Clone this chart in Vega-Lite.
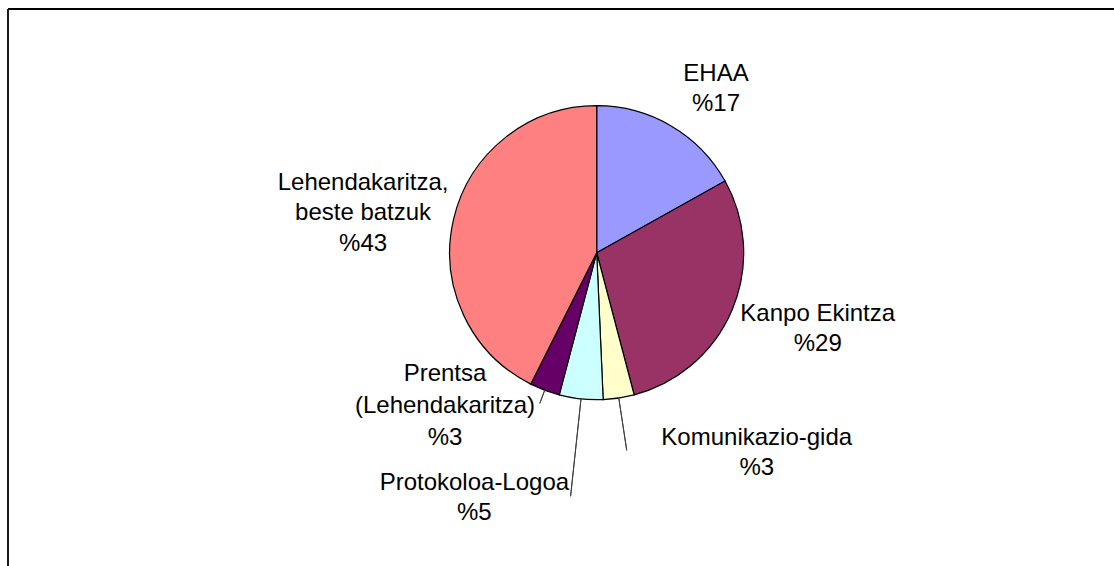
{
  "$schema": "https://vega.github.io/schema/vega-lite/v6.json",
  "width": 1106,
  "height": 557,
  "autosize": "none",
  "padding": {"left": 8, "top": 9, "right": 0, "bottom": 0},
  "background": "white",
  "config": {"view": {"stroke": null}, "text": {"font": "Liberation Sans"}},
  "layer": [
    {
      "data": {"values": [{}]},
      "mark": {"type": "rule", "color": "#000000", "strokeWidth": 2},
      "encoding": {"x": {"value": 0}, "x2": {"value": "width"}, "y": {"value": 0}}
    },
    {
      "data": {"values": [{}]},
      "mark": {"type": "rule", "color": "#1a1a1a", "strokeWidth": 2},
      "encoding": {"x": {"value": 0}, "y": {"value": 0}, "y2": {"value": "height"}}
    },
    {
      "data": {
        "values": [
          {"name": "EHAA", "value": 16.9},
          {"name": "Kanpo Ekintza", "value": 29.0},
          {"name": "Komunikazio-gida", "value": 3.4},
          {"name": "Protokoloa-Logoa", "value": 4.8},
          {"name": "Prentsa\n(Lehendakaritza)", "value": 3.3},
          {"name": "Lehendakaritza,\nbeste batzuk", "value": 42.6}
        ]
      },
      "transform": [
        {"window": [{"op": "sum", "field": "value", "as": "cumEnd"}], "frame": [null, 0]},
        {"calculate": "datum.cumEnd - datum.value", "as": "cumStart"},
        {"calculate": "datum.cumEnd - datum.value / 2", "as": "mid"},
        {"calculate": "datum.name + '\\n%' + format(datum.value, '.0f')", "as": "label"}
      ],
      "layer": [
        {
          "mark": {"type": "arc", "outerRadius": 147, "stroke": "#000000", "strokeWidth": 1.2, "x": {"expr": "width/2 + 35.7"}, "y": {"expr": "height/2 - 34.8"}},
          "encoding": {
            "theta": {"field": "cumStart", "type": "quantitative", "stack": null, "scale": {"domain": [0, 100], "range": [0, 6.283185307179586]}},
            "theta2": {"field": "cumEnd"},
            "color": {
              "field": "name",
              "type": "nominal",
              "legend": null,
              "scale": {
                "domain": ["EHAA", "Kanpo Ekintza", "Komunikazio-gida", "Protokoloa-Logoa", "Prentsa\n(Lehendakaritza)", "Lehendakaritza,\nbeste batzuk"],
                "range": ["#9999FF", "#993366", "#FFFFCC", "#CCFFFF", "#660066", "#FF8080"]
              }
            }
          }
        },
        {
          "transform": [{"filter": "indexof(datum.name, 'Prentsa') === 0"}],
          "mark": {"type": "arc", "innerRadius": 147, "outerRadius": 161, "filled": false, "stroke": "#404040", "strokeWidth": 1, "x": {"expr": "width/2 + 35.7"}, "y": {"expr": "height/2 - 34.8"}},
          "encoding": {"theta": {"field": "mid", "type": "quantitative", "stack": null}, "theta2": {"field": "mid"}}
        },
        {
          "transform": [{"filter": "datum.name === 'Protokoloa-Logoa'"}],
          "mark": {"type": "arc", "innerRadius": 147, "outerRadius": 245, "filled": false, "stroke": "#404040", "strokeWidth": 1, "x": {"expr": "width/2 + 35.7"}, "y": {"expr": "height/2 - 34.8"}},
          "encoding": {"theta": {"field": "mid", "type": "quantitative", "stack": null}, "theta2": {"field": "mid"}}
        },
        {
          "transform": [{"filter": "datum.name === 'Komunikazio-gida'"}],
          "mark": {"type": "arc", "innerRadius": 147, "outerRadius": 200, "filled": false, "stroke": "#404040", "strokeWidth": 1, "x": {"expr": "width/2 + 35.7"}, "y": {"expr": "height/2 - 34.8"}},
          "encoding": {"theta": {"field": "mid", "type": "quantitative", "stack": null}, "theta2": {"field": "mid"}}
        },
        {
          "transform": [{"filter": "datum.name === 'EHAA'"}],
          "mark": {"type": "text", "radius": 200, "dx": 18, "dy": -6, "fontSize": 24, "lineHeight": 30, "lineBreak": "\n", "align": "center", "baseline": "middle", "color": "#000000", "x": {"expr": "width/2 + 35.7"}, "y": {"expr": "height/2 - 34.8"}},
          "encoding": {"theta": {"field": "mid", "type": "quantitative", "stack": null}, "text": {"field": "label"}}
        },
        {
          "transform": [{"filter": "datum.name === 'Kanpo Ekintza'"}],
          "mark": {"type": "text", "radius": 200, "dx": 37, "dy": -17, "fontSize": 24, "lineHeight": 30, "lineBreak": "\n", "align": "center", "baseline": "middle", "color": "#000000", "x": {"expr": "width/2 + 35.7"}, "y": {"expr": "height/2 - 34.8"}},
          "encoding": {"theta": {"field": "mid", "type": "quantitative", "stack": null}, "text": {"field": "label"}}
        },
        {
          "transform": [{"filter": "datum.name === 'Komunikazio-gida'"}],
          "mark": {"type": "text", "radius": 200, "dx": 130, "dy": -12, "fontSize": 24, "lineHeight": 30, "lineBreak": "\n", "align": "center", "baseline": "middle", "color": "#000000", "x": {"expr": "width/2 + 35.7"}, "y": {"expr": "height/2 - 34.8"}},
          "encoding": {"theta": {"field": "mid", "type": "quantitative", "stack": null}, "text": {"field": "label"}}
        },
        {
          "transform": [{"filter": "datum.name === 'Protokoloa-Logoa'"}],
          "mark": {"type": "text", "radius": 200, "dx": -101, "dy": 31, "fontSize": 24, "lineHeight": 30, "lineBreak": "\n", "align": "center", "baseline": "middle", "color": "#000000", "x": {"expr": "width/2 + 35.7"}, "y": {"expr": "height/2 - 34.8"}},
          "encoding": {"theta": {"field": "mid", "type": "quantitative", "stack": null}, "text": {"field": "label"}}
        },
        {
          "transform": [{"filter": "indexof(datum.name, 'Prentsa') === 0"}],
          "mark": {"type": "text", "radius": 200, "dx": -81, "dy": -66, "fontSize": 24, "lineHeight": 32, "lineBreak": "\n", "align": "center", "baseline": "middle", "color": "#000000", "x": {"expr": "width/2 + 35.7"}, "y": {"expr": "height/2 - 34.8"}},
          "encoding": {"theta": {"field": "mid", "type": "quantitative", "stack": null}, "text": {"field": "label"}}
        },
        {
          "transform": [{"filter": "indexof(datum.name, 'Lehendakaritza,') === 0"}],
          "mark": {"type": "text", "radius": 200, "dx": -39, "dy": -24, "fontSize": 24, "lineHeight": 30.5, "lineBreak": "\n", "align": "center", "baseline": "middle", "color": "#000000", "x": {"expr": "width/2 + 35.7"}, "y": {"expr": "height/2 - 34.8"}},
          "encoding": {"theta": {"field": "mid", "type": "quantitative", "stack": null}, "text": {"field": "label"}}
        }
      ]
    }
  ]
}
